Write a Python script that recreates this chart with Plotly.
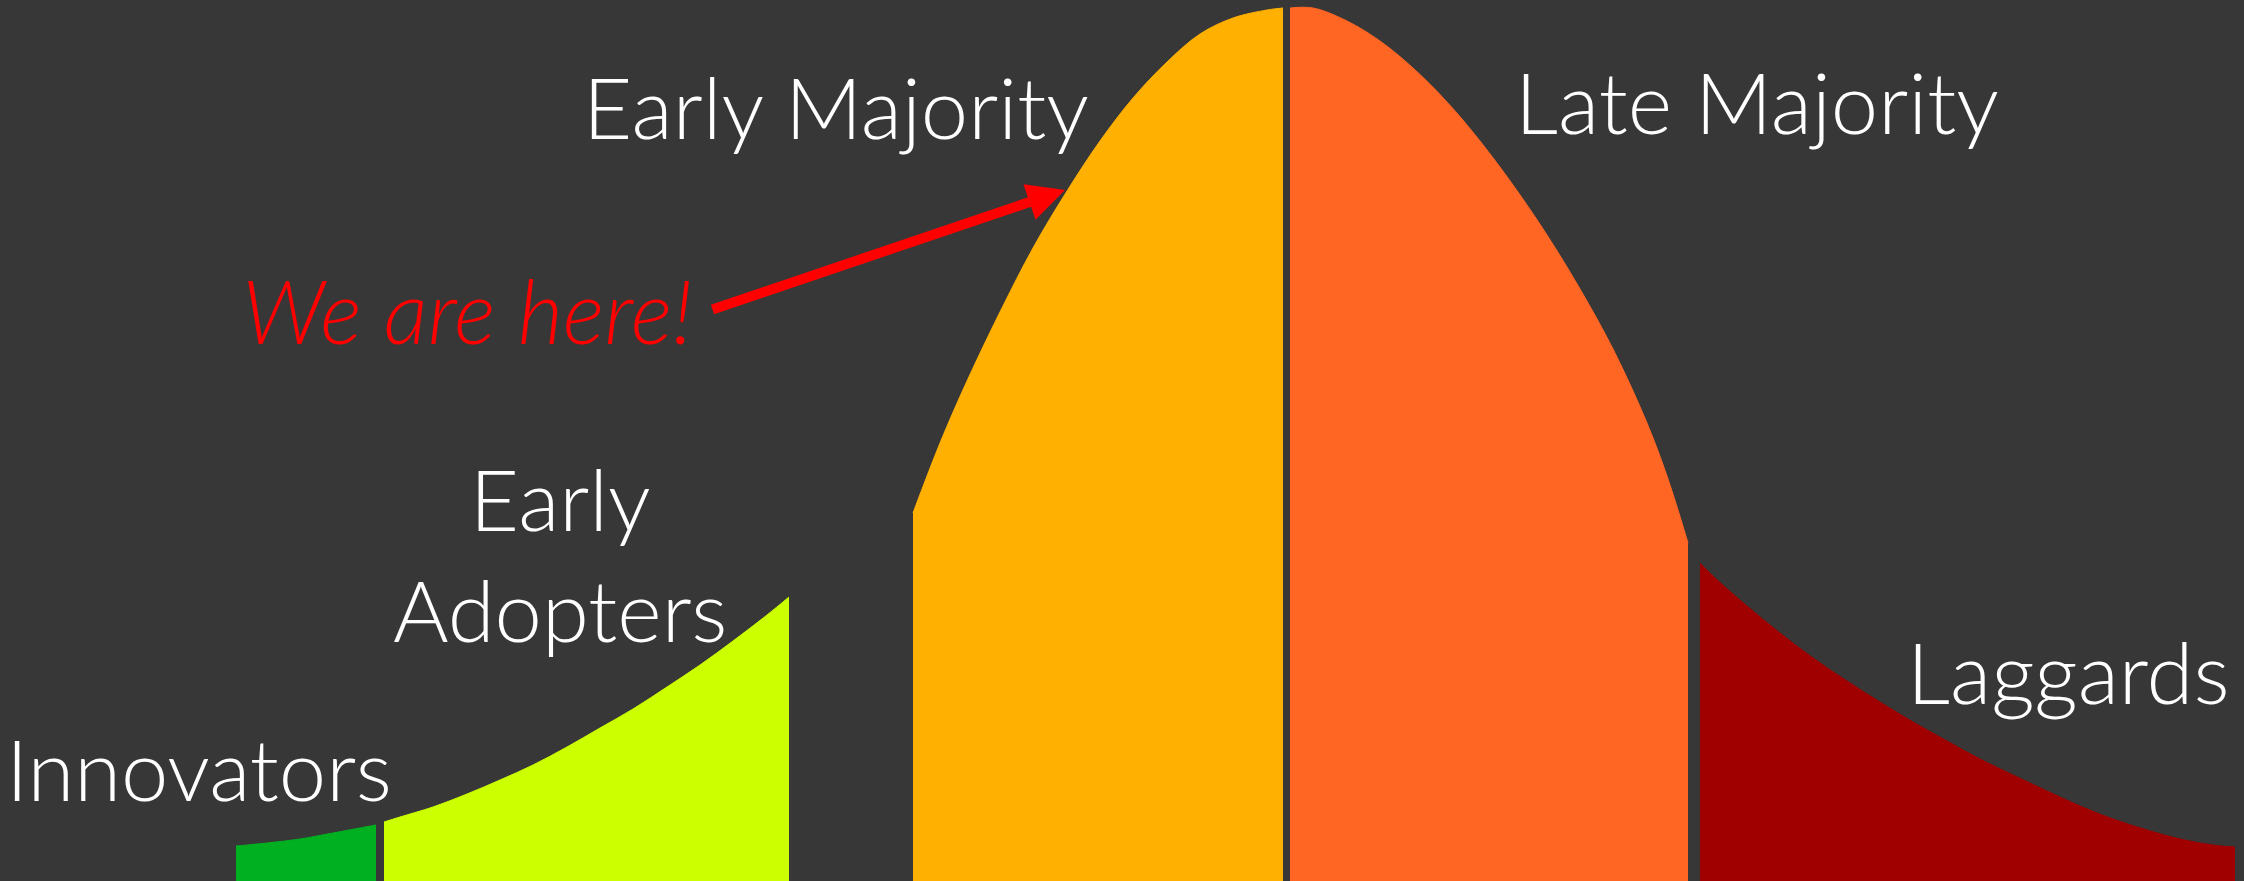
import plotly.graph_objects as go

# ---- data: adoption curve segments (x position, curve height) ----
segment_names = ["Innovators", "Early Adopters", "Early Majority", "Late Majority", "Laggards"]
segment_colors = ["#00B020", "#CCFF00", "#FFB000", "#FF6624", "#A00000"]

innovators_x = [236, 267, 300, 333, 376]
innovators_h = [35, 38, 42, 48, 56]

early_adopters_x = [384, 400, 433, 467, 500, 533, 567, 600, 633, 667, 700, 733, 767, 789]
early_adopters_h = [59, 64, 74, 87, 101, 116, 134, 153, 172, 194, 216, 240, 266, 284]

early_majority_x = [913, 940, 967, 1000, 1033, 1067, 1100, 1133, 1167, 1200, 1233, 1267, 1283]
early_majority_h = [368, 438, 500, 569, 633, 690, 740, 783, 819, 847, 863, 871, 873]

late_majority_x = [1290, 1313, 1347, 1380, 1413, 1447, 1480, 1513, 1547, 1580, 1613, 1647, 1668, 1688]
late_majority_h = [873, 873, 860, 840, 813, 779, 740, 696, 646, 592, 532, 458, 402, 338]

laggards_x = [1700, 1713, 1747, 1780, 1813, 1847, 1880, 1913, 1947, 1980, 2013, 2047,
              2080, 2113, 2147, 2180, 2213, 2235]
laggards_h = [318, 305, 275, 248, 223, 200, 179, 159, 140, 122, 106, 90, 75, 62, 51, 42, 36, 34]

segments_x = [innovators_x, early_adopters_x, early_majority_x, late_majority_x, laggards_x]
segments_h = [innovators_h, early_adopters_h, early_majority_h, late_majority_h, laggards_h]

BG = "#373737"
W, H = 2244, 881

fig = go.Figure()
for name, color, xs, hs in zip(segment_names, segment_colors, segments_x, segments_h):
    fig.add_trace(go.Scatter(
        x=xs, y=hs, mode="lines", name=name,
        line=dict(color=color, width=1, shape="spline", smoothing=1.0),
        fill="tozeroy", fillcolor=color, hoverinfo="skip", showlegend=False,
    ))

label_font = dict(family="Lato", size=85, color="white", weight=300)

labels = [
    ("Early Majority", 836, 775),
    ("Late Majority", 1757, 780),
    ("Early<br>Adopters", 560, 328),
    ("Innovators", 199, 113),
    ("Laggards", 2068, 210),
]
for text, x, y in labels:
    fig.add_annotation(x=x, y=y, xref="x", yref="y", text=text, showarrow=False,
                       xanchor="center", yanchor="middle", align="center", font=label_font)

# "We are here!" callout
fig.add_annotation(x=467, y=571, xref="x", yref="y", text="We are here!", showarrow=False,
                   xanchor="center", yanchor="middle",
                   font=dict(family="Lato", size=88, color="#FF0000", weight=300, style="italic"))
fig.add_annotation(x=1065, y=691, ax=711, ay=571, xref="x", yref="y", axref="x", ayref="y",
                   text="", showarrow=True, arrowhead=2, arrowsize=0.75, arrowwidth=10,
                   arrowcolor="#FF0000", standoff=0, startstandoff=0)

fig.update_layout(
    width=W, height=H, margin=dict(l=0, r=0, t=0, b=0),
    paper_bgcolor=BG, plot_bgcolor=BG,
    xaxis=dict(range=[0, W], visible=False, fixedrange=True),
    yaxis=dict(range=[0, H], visible=False, fixedrange=True),
)
fig.write_html(
    "out.html",
    config={"displayModeBar": False},
    post_script="document.body.style.margin='0';document.body.style.background='%s';"
                "document.documentElement.style.background='%s';" % (BG, BG),
)
